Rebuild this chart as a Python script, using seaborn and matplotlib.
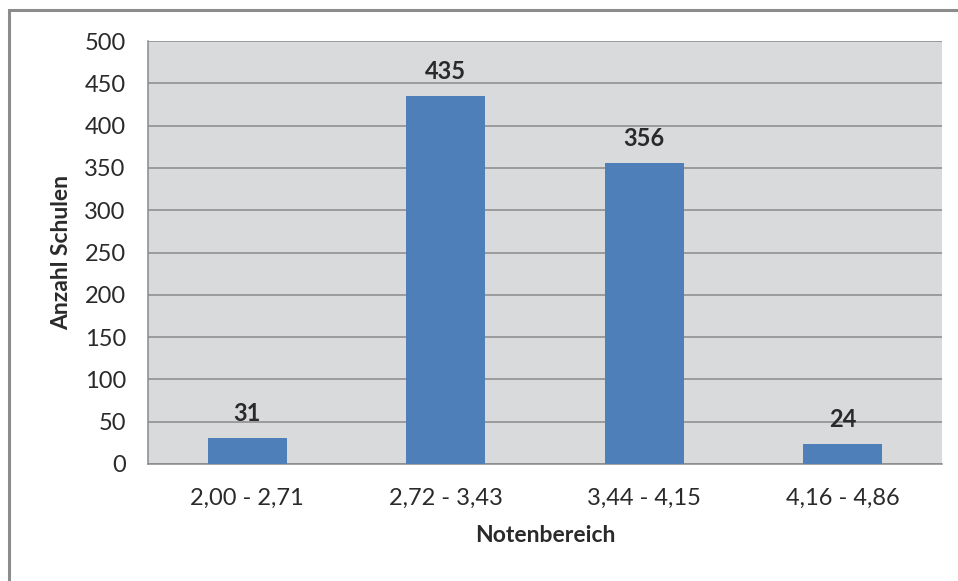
import matplotlib
matplotlib.use("Agg")
import matplotlib.pyplot as plt
import seaborn as sns
import pandas as pd
from matplotlib.patches import Rectangle
from matplotlib.ticker import FixedLocator

categories = ["2,00 - 2,71", "2,72 - 3,43", "3,44 - 4,15", "4,16 - 4,86"]
values = [31, 435, 356, 24]
y_ticks = [0, 50, 100, 150, 200, 250, 300, 350, 400, 450, 500]

df = pd.DataFrame({"Notenbereich": categories, "Anzahl": values})

sns.set_theme(style="white")
plt.rcParams['font.family'] = ['Lato', 'DejaVu Sans']

W, H = 958, 581
fig = plt.figure(figsize=(W / 100, H / 100), dpi=100)
fig.patch.set_facecolor("white")

# outer frame
fig.patches.append(Rectangle((8.5 / W, -0.05), 1.2, 1 - 10.5 / H + 0.05,
                             transform=fig.transFigure, fill=False,
                             edgecolor="#8c8c8c", linewidth=2.2))

ax = fig.add_axes([148 / W, 1 - 464 / H, (942 - 148) / W, (464 - 41) / H])
ax.set_facecolor("#d9dadc")

sns.barplot(data=df, x="Notenbereich", y="Anzahl", color="#4f7fb8",
            width=0.4, saturation=1, ax=ax, zorder=3, linewidth=0)

ax.set_ylim(0, 500)
ax.set_xlim(-0.5, len(categories) - 0.5)
ax.set_yticks(y_ticks)
ax.yaxis.grid(True, color="#8a8a8a", linewidth=1.1, zorder=0)
ax.set_axisbelow(True)

txt = "#2a2a2a"
ax.tick_params(axis="y", which="major", length=8, width=1.1, color="#8a8a8a",
               labelsize=17, labelcolor=txt, pad=8)
ax.tick_params(axis="x", which="major", length=0, labelsize=17,
               labelcolor=txt, pad=17)
ax.xaxis.set_minor_locator(FixedLocator([i - 0.5 for i in range(len(categories) + 1)]))
ax.tick_params(axis="x", which="minor", length=9, width=1.1, color="#8a8a8a")

for s in ["top", "right"]:
    ax.spines[s].set_visible(False)
for s in ["left", "bottom"]:
    ax.spines[s].set_color("#8a8a8a")
    ax.spines[s].set_linewidth(1.1)

ax.set_xlabel("Notenbereich", fontsize=16.5, fontweight="bold", color=txt, labelpad=12)
ax.set_ylabel("Anzahl Schulen", fontsize=16.5, fontweight="bold", color=txt, labelpad=9)

for c in ax.containers:
    ax.bar_label(c, labels=[str(v) for v in values], padding=9,
                 fontsize=17, fontweight="bold", color=txt)

fig.savefig("out.png", dpi=100, facecolor="white")
